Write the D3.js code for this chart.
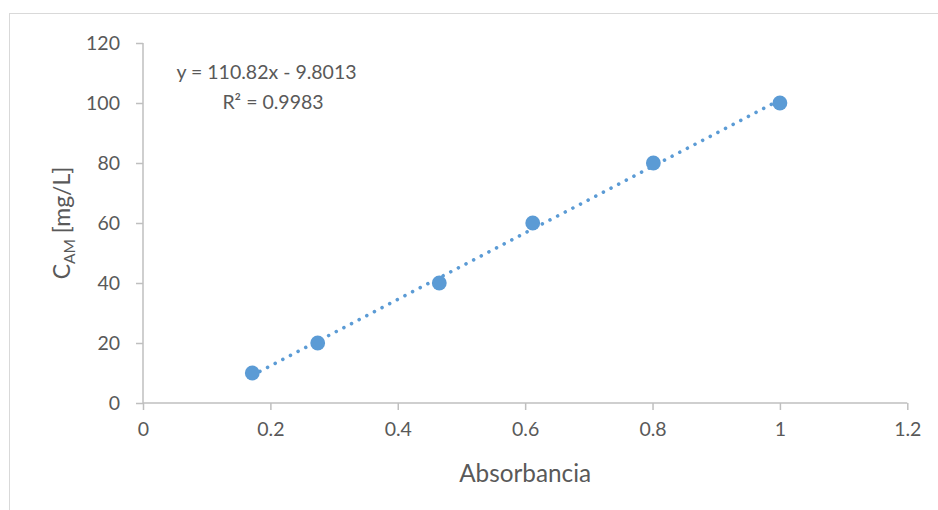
<!DOCTYPE html>
<html>
<head>
<meta charset="utf-8">
<script src="https://cdn.jsdelivr.net/npm/d3@7"></script>
<style>
  html, body { margin: 0; padding: 0; background: #fff; }
  svg { display: block; }
  text { font-family: Lato, "Open Sans", sans-serif; fill: #595959; }
</style>
</head>
<body>
<svg id="chart" width="938" height="510"></svg>
<script>
// Calibration data: absorbance vs. concentration
const absorbance = [0.1716, 0.2743, 0.4652, 0.6119, 0.8013, 1.0];
const concentration = [10, 20, 40, 60, 80, 100];
const xTicks = [0, 0.2, 0.4, 0.6, 0.8, 1, 1.2];
const yTicks = [0, 20, 40, 60, 80, 100, 120];
// Linear fit reported on the chart
const slope = 110.82;
const intercept = -9.8013;
const rSquared = "0.9983";

const svg = d3.select("#chart");
const W = 938, H = 510;
const margin = { left: 143, right: 938 - 907.3, top: 43, bottom: 510 - 403 };

const x = d3.scaleLinear().domain([0, 1.2]).range([margin.left, W - margin.right]);
const y = d3.scaleLinear().domain([0, 120]).range([H - margin.bottom, margin.top]);

const axisColor = "#BFBFBF";
const blue = "#5B9BD5";

// outer chart frame
svg.append("rect")
  .attr("x", 9.5).attr("y", 13.5)
  .attr("width", 940).attr("height", 520)
  .attr("fill", "none").attr("stroke", "#D9D9D9").attr("stroke-width", 1);

// x axis
const xAxis = svg.append("g")
  .attr("transform", `translate(0,${y(0)})`)
  .call(d3.axisBottom(x).tickValues(xTicks).tickSize(7).tickPadding(12)
    .tickFormat(d => d3.format("~g")(d)));
xAxis.select(".domain").attr("stroke", axisColor).attr("stroke-width", 1.5);
xAxis.selectAll(".tick line").attr("stroke", axisColor).attr("stroke-width", 1.5);
xAxis.selectAll(".tick text").attr("font-size", 19.5).attr("fill", "#595959")
  .attr("font-family", "Lato, 'Open Sans', sans-serif");

// y axis
const yAxis = svg.append("g")
  .attr("transform", `translate(${x(0)},0)`)
  .call(d3.axisLeft(y).tickValues(yTicks).tickSize(7).tickPadding(16));
yAxis.select(".domain").attr("stroke", axisColor).attr("stroke-width", 1.5);
yAxis.selectAll(".tick line").attr("stroke", axisColor).attr("stroke-width", 1.5);
yAxis.selectAll(".tick text").attr("font-size", 19.5).attr("fill", "#595959")
  .attr("font-family", "Lato, 'Open Sans', sans-serif");
// plain domain lines without end stubs
xAxis.select(".domain").attr("d", `M${x(0)},0H${x(1.2)}`);
yAxis.select(".domain").attr("d", `M0,${y(0)}V${y(120)}`);

// trend line from the reported fit, across the data range
const xMin = d3.min(absorbance), xMax = d3.max(absorbance);
const fit = v => slope * v + intercept;
svg.append("line")
  .attr("x1", x(xMin)).attr("y1", y(fit(xMin)))
  .attr("x2", x(xMax)).attr("y2", y(fit(xMax)))
  .attr("stroke", blue).attr("stroke-width", 3.6)
  .attr("stroke-linecap", "round")
  .attr("stroke-dasharray", "0.01 8.6");

// data points
svg.append("g").selectAll("circle")
  .data(absorbance.map((a, i) => [a, concentration[i]]))
  .join("circle")
  .attr("cx", d => x(d[0])).attr("cy", d => y(d[1]))
  .attr("r", 7.4).attr("fill", blue);

// equation label
const eq = svg.append("text").attr("font-size", 19.5).attr("text-anchor", "middle");
eq.append("tspan").attr("x", 266.5).attr("y", 79)
  .text(`y = ${slope}x - ${Math.abs(intercept)}`);
eq.append("tspan").attr("x", 273).attr("y", 109)
  .text(`R² = ${rSquared}`);

// x axis title
svg.append("text")
  .attr("x", (x(0) + x(1.2)) / 2).attr("y", 481.5)
  .attr("text-anchor", "middle").attr("font-size", 24.3)
  .text("Absorbancia");

// y axis title
const yt = svg.append("text")
  .attr("transform", `translate(70,${(y(0) + y(120)) / 2}) rotate(-90)`)
  .attr("text-anchor", "middle").attr("font-size", 23);
yt.append("tspan").text("C");
yt.append("tspan").attr("font-size", 15.5).attr("dy", 5).text("AM");
yt.append("tspan").attr("dy", -5).text(" [mg/L]");
</script>
</body>
</html>
